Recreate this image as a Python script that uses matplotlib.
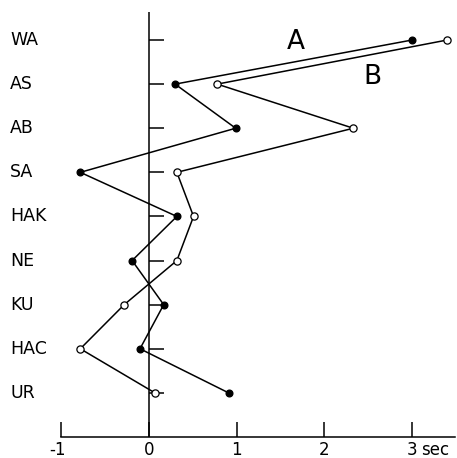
import matplotlib
matplotlib.use("Agg")
import matplotlib.pyplot as plt
import matplotlib.transforms as mtransforms

categories = ["WA", "AS", "AB", "SA", "HAK", "NE", "KU", "HAC", "UR"]
series_a = [3.00, 0.30, 0.99, -0.78, 0.32, -0.19, 0.17, -0.10, 0.91]
series_b = [3.40, 0.78, 2.33, 0.32, 0.51, 0.32, -0.28, -0.78, 0.07]
x_ticks = [-1, 0, 1, 2, 3]
x_tick_labels = ["-1", "0", "1", "2", "3"]
x_unit = "sec"

W, H = 457, 458
fig = plt.figure(figsize=(W / 100, H / 100), dpi=100)
ax = fig.add_axes([61 / W, (H - 437) / H, (455 - 61) / W, 437 / H])

ypos = list(range(len(categories)))
ax.set_xlim(-1, (455 - 148) / 88)
ax.set_ylim(9.0, -40 / 44.1)

lw = 1.1
ink = "black"

# central reference line at zero with short category ticks
ax.plot([0, 0], [-0.63, 9.0], color=ink, lw=lw, solid_capstyle="butt")
ax.hlines(ypos, 0, 0.17, color=ink, lw=lw)

ax.plot(series_a, ypos, color=ink, lw=lw, marker="o", markersize=4.8,
        markerfacecolor=ink, markeredgecolor=ink, zorder=3)
ax.plot(series_b, ypos, color=ink, lw=lw, marker="o", markersize=5.2,
        markerfacecolor="white", markeredgecolor=ink, markeredgewidth=0.9, zorder=3)

ax.text(1.68, 0.05, "A", fontsize=19, ha="center", va="center", color=ink)
ax.text(2.55, 0.84, "B", fontsize=19, ha="center", va="center", color=ink)

# category names at the left margin
tr = mtransforms.blended_transform_factory(fig.transFigure, ax.transData)
for y, name in zip(ypos, categories):
    ax.text(10 / W, y, name, transform=tr, ha="left", va="center",
            fontsize=12.5, color=ink)

for s in ["top", "right", "left"]:
    ax.spines[s].set_visible(False)
ax.spines["bottom"].set_linewidth(lw)
ax.set_yticks([])
ax.set_xticks(x_ticks)
ax.set_xticklabels(x_tick_labels, fontsize=12)
ax.tick_params(axis="x", direction="in", length=11, width=lw, pad=3, colors=ink)
lab0 = ax.get_xticklabels()[0]
lab0.set_transform(lab0.get_transform() + mtransforms.ScaledTranslation(-3 / 100, 0, fig.dpi_scale_trans))

# unit written just after the last tick value
unit_tr = mtransforms.blended_transform_factory(ax.transData, ax.transAxes) + \
    mtransforms.ScaledTranslation(0, -3 / 72, fig.dpi_scale_trans)
ax.text(3.1, 0, x_unit, transform=unit_tr, ha="left", va="top", fontsize=12, color=ink)

fig.savefig("out.png", dpi=100)
